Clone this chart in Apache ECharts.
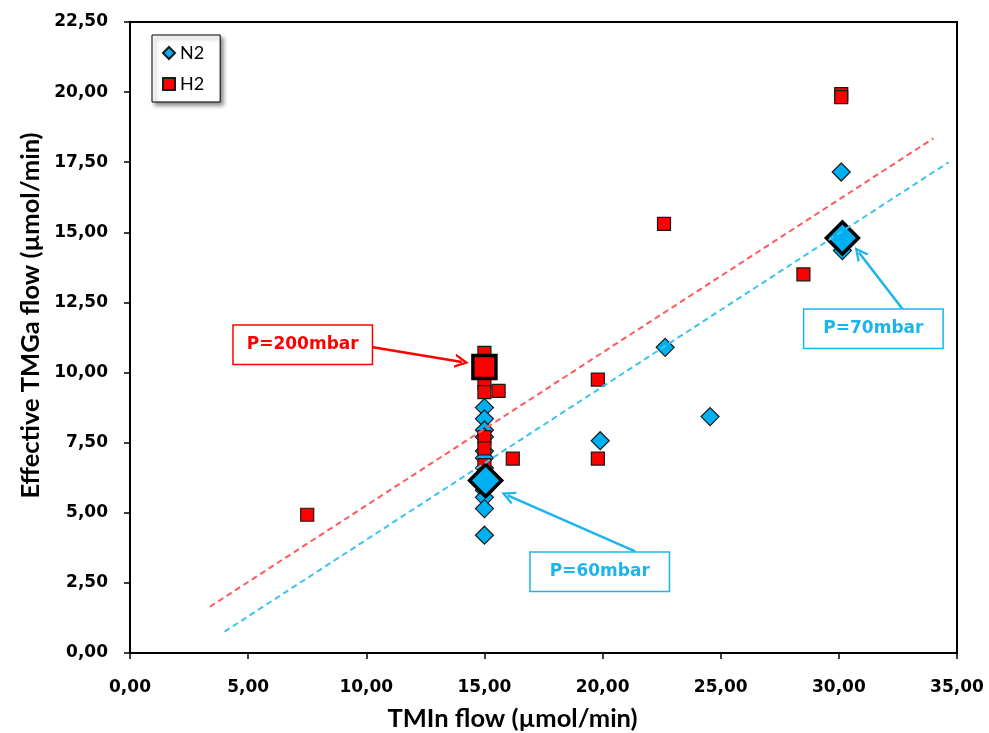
<!DOCTYPE html>
<html>
<head>
<meta charset="utf-8">
<script src="https://cdn.jsdelivr.net/npm/echarts@6/dist/echarts.min.js"></script>
<style>
html,body{margin:0;padding:0;background:#fff;}
#chart{width:989px;height:733px;}
</style>
</head>
<body>
<div id="chart"></div>
<script>
// ---- data ----
const n2X = [30.1, 30.15, 22.65, 24.55, 19.9, 15.0, 15.0, 15.0, 15.0, 15.0, 15.0, 15.0, 15.0, 15.0, 15.0, 15.0];
const n2Y = [17.15, 14.35, 10.9, 8.43, 7.57, 8.75, 8.35, 7.95, 7.7, 7.2, 6.95, 6.6, 5.8, 5.55, 5.15, 4.2];
const h2X = [30.1, 30.1, 22.6, 28.5, 19.8, 19.8, 16.2, 15.6, 7.5, 15.0, 15.0, 15.0, 15.0, 15.0, 15.0];
const h2Y = [19.93, 19.82, 15.3, 13.5, 9.75, 6.93, 6.93, 9.35, 4.93, 10.7, 9.65, 9.3, 7.7, 7.3, 6.7];
const n2AvgX = [15.05, 30.15];
const n2AvgY = [6.15, 14.8];
const h2AvgX = [15.0];
const h2AvgY = [10.2];
const trendH2X = [3.38, 34.0];
const trendH2Y = [1.65, 18.35];
const trendN2X = [4.0, 34.65];
const trendN2Y = [0.76, 17.5];
const xTicks = [0, 35, 5];     // min, max, interval
const yTicks = [0, 22.5, 2.5]; // min, max, interval
const annTexts = ['P=200mbar', 'P=60mbar', 'P=70mbar'];
const annBoxX = [7.31, 19.88, 31.46];
const annBoxY = [10.99, 2.9, 11.56];
const annArrowFromX = [10.28, 21.38, 32.71];
const annArrowFromY = [10.9, 3.62, 12.25];
const annArrowToX = [14.05, 15.98, 30.85];
const annArrowToY = [10.38, 5.62, 14.28];
const annColors = ['#ff0000', '#1cb4ec', '#1cb4ec'];

const RED = '#ff0000', BLUE = '#00b0f0';
const zip = (a, b) => a.map((v, i) => [v, b[i]]);
const fmt = v => v.toFixed(2).replace('.', ',');
const tickFont = {fontFamily: 'DejaVu Sans', fontWeight: 'bold', fontSize: 17, color: '#000'};
const titleFont = {fontFamily: 'Lato', fontWeight: 'bold', fontSize: 25.5, color: '#000'};
const chevron = 'path://M0,10 L5,0 L10,10 L8.2,10 L5,3.6 L1.8,10 Z';

const chart = echarts.init(document.getElementById('chart'), null, {renderer: 'canvas'});
const option = {
  animation: false,
  backgroundColor: '#fff',
  grid: {left: 130, right: 32, top: 22, bottom: 80, show: true, borderColor: '#000', borderWidth: 2,
         containLabel: false, outerBoundsMode: 'none'},
  legend: {
    data: ['N2', 'H2'], orient: 'vertical', left: 152, top: 35,
    backgroundColor: '#fff', borderColor: '#000', borderWidth: 1,
    padding: [9, 16, 9, 10], itemGap: 13, itemWidth: 12, itemHeight: 12,
    shadowColor: 'rgba(0,0,0,0.45)', shadowBlur: 4, shadowOffsetX: 3, shadowOffsetY: 3,
    textStyle: {fontFamily: 'Lato', fontSize: 18, color: '#000'}
  },
  xAxis: {
    type: 'value', min: xTicks[0], max: xTicks[1], interval: xTicks[2],
    name: 'TMIn flow (µmol/min)', nameLocation: 'middle', nameGap: 53,
    nameTextStyle: Object.assign({padding: [0, 62, 0, 0]}, titleFont),
    axisLine: {show: true, onZero: false, lineStyle: {color: '#000', width: 2}},
    axisTick: {show: true, inside: false, length: 6, lineStyle: {color: '#000', width: 1.5}},
    axisLabel: Object.assign({formatter: fmt, margin: 26}, tickFont),
    splitLine: {show: false}
  },
  yAxis: {
    type: 'value', min: yTicks[0], max: yTicks[1], interval: yTicks[2],
    name: 'Effective TMGa flow (µmol/min)', nameLocation: 'middle', nameGap: 86,
    nameTextStyle: Object.assign({padding: [0, 0, 0, 44]}, titleFont),
    axisLine: {show: true, onZero: false, lineStyle: {color: '#000', width: 2}},
    axisTick: {show: true, inside: false, length: 6, lineStyle: {color: '#000', width: 1.5}},
    axisLabel: Object.assign({formatter: fmt, margin: 22}, tickFont),
    splitLine: {show: false}
  },
  series: [
    {type: 'line', name: 'trendH2', data: zip(trendH2X, trendH2Y), symbol: 'none', silent: true,
     lineStyle: {color: '#ff5a5a', width: 2, type: [6, 4]}},
    {type: 'line', name: 'trendN2', data: zip(trendN2X, trendN2Y), symbol: 'none', silent: true,
     lineStyle: {color: '#3cc3f0', width: 2, type: [6, 4]}},
    {type: 'scatter', name: 'N2', data: zip(n2X, n2Y), symbol: 'diamond', symbolSize: 18,
     itemStyle: {color: BLUE, borderColor: '#1a1a1a', borderWidth: 1.2, opacity: 1}},
    {type: 'scatter', name: 'H2', data: zip(h2X, h2Y), symbol: 'rect', symbolSize: 13,
     itemStyle: {color: RED, borderColor: '#1a1a1a', borderWidth: 1.2, opacity: 1}},
    {type: 'scatter', name: 'H2 avg', data: zip(h2AvgX, h2AvgY), symbol: 'rect', symbolSize: 23,
     itemStyle: {color: RED, borderColor: '#000', borderWidth: 3.5, opacity: 1}},
    {type: 'scatter', name: 'N2 avg', data: zip(n2AvgX, n2AvgY), symbol: 'diamond', symbolSize: 32,
     itemStyle: {color: BLUE, borderColor: '#000', borderWidth: 3.5, opacity: 1}},
    {type: 'scatter', name: 'annotations', data: [], silent: true, z: 5,
     markLine: {
       silent: true, symbol: ['none', chevron], symbolSize: 14, label: {show: false},
       emphasis: {disabled: true},
       data: annTexts.map((t, i) => [
         {coord: [annArrowFromX[i], annArrowFromY[i]],
          lineStyle: {color: annColors[i], width: 2.5, type: 'solid'},
          itemStyle: {color: annColors[i]}},
         {coord: [annArrowToX[i], annArrowToY[i]]}
       ])
     },
     markPoint: {
       silent: true,
       data: annTexts.map((t, i) => ({
         coord: [annBoxX[i], annBoxY[i]], symbol: 'circle', symbolSize: 1,
         itemStyle: {color: 'rgba(0,0,0,0)'},
         label: {show: true, position: 'inside', formatter: t, color: annColors[i],
                 fontFamily: 'DejaVu Sans', fontWeight: 'bold', fontSize: 17,
                 backgroundColor: '#fff', borderColor: annColors[i], borderWidth: 1.5,
                 width: 138, height: 38, lineHeight: 38, align: 'center', verticalAlign: 'middle', padding: 0}
       }))
     }}
  ]
};
chart.setOption(option);
</script>
</body>
</html>
